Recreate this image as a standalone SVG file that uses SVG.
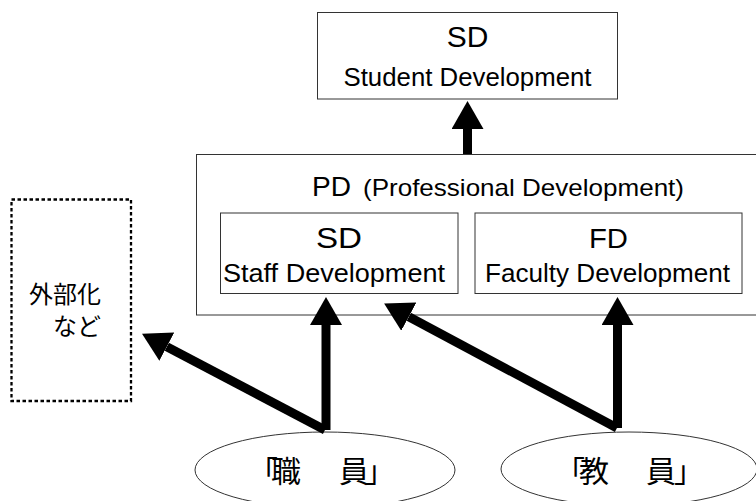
<svg xmlns="http://www.w3.org/2000/svg" width="756" height="501" viewBox="0 0 756 501">
  <style>
    .box { fill: #ffffff; stroke: #333333; stroke-width: 1; }
    .dash { fill: none; stroke: #000000; stroke-width: 2.3; stroke-dasharray: 3.5 2.5; }
    .oval { fill: #ffffff; stroke: #333333; stroke-width: 1; }
    .lat { font-family: "Liberation Sans", Arial, Helvetica, sans-serif; fill: #000000; }
    .jp { font-family: "Noto Sans CJK JP", "Noto Sans CJK SC", sans-serif; fill: #000000; }
    .mid { text-anchor: middle; }
    .arrow { stroke: #000000; stroke-width: 9; fill: none; marker-end: url(#head); }
  </style>
  <defs>
    <marker id="head" viewBox="0 0 28 32" refX="0" refY="16" markerWidth="28" markerHeight="32" markerUnits="userSpaceOnUse" orient="auto">
      <path d="M0,0 L28,16 L0,32 Z" fill="#000000"/>
    </marker>
  </defs>
  <rect width="756" height="501" fill="#ffffff"/>

  <!-- outer PD frame -->
  <g id="pd">
    <rect class="box" x="196.5" y="154.5" width="570" height="160.5"/>
    <text class="lat" x="312" y="196" font-size="27" textLength="39" lengthAdjust="spacingAndGlyphs">PD</text>
    <text class="lat" x="363" y="196" font-size="24" textLength="321" lengthAdjust="spacingAndGlyphs">(Professional Development)</text>
  </g>

  <!-- student development -->
  <g id="student-sd">
    <rect class="box" x="317.5" y="12.5" width="300" height="86.5"/>
    <text class="lat mid" x="467.5" y="47" font-size="29" textLength="41.6" lengthAdjust="spacingAndGlyphs">SD</text>
    <text class="lat mid" x="467.5" y="86" font-size="25" textLength="248" lengthAdjust="spacingAndGlyphs">Student Development</text>
  </g>

  <!-- staff development -->
  <g id="staff-sd">
    <rect class="box" x="220.5" y="213" width="237.5" height="80.5"/>
    <text class="lat mid" x="339" y="248" font-size="29" textLength="46" lengthAdjust="spacingAndGlyphs">SD</text>
    <text class="lat" x="223" y="282" font-size="25" textLength="222" lengthAdjust="spacingAndGlyphs">Staff Development</text>
  </g>

  <!-- faculty development -->
  <g id="faculty-fd">
    <rect class="box" x="475" y="213" width="267" height="80.5"/>
    <text class="lat mid" x="608.5" y="248" font-size="28" textLength="39" lengthAdjust="spacingAndGlyphs">FD</text>
    <text class="lat" x="485" y="282" font-size="25" textLength="245" lengthAdjust="spacingAndGlyphs">Faculty Development</text>
  </g>

  <!-- outsourcing etc. -->
  <g id="outsourcing">
    <rect class="dash" x="11.5" y="199.5" width="119.5" height="201.5"/>
    <text class="jp" x="101" y="303" font-size="24" text-anchor="end">外部化</text>
    <text class="jp" x="101" y="335" font-size="24" text-anchor="end">など</text>
  </g>

  <!-- staff -->
  <g id="staff">
    <ellipse class="oval" cx="325" cy="470" rx="130" ry="38"/>
    <text class="jp" x="248 271 305 339 365" y="482" font-size="30">「職　員」</text>
  </g>

  <!-- faculty -->
  <g id="faculty">
    <ellipse class="oval" cx="629" cy="469" rx="128" ry="37"/>
    <text class="jp" x="555 579 612 646 674" y="482" font-size="30">「教　員」</text>
  </g>

  <!-- connectors -->
  <g id="connectors">
    <line class="arrow" x1="467.5" y1="154" x2="467.5" y2="129"/>
    <line class="arrow" x1="326" y1="430" x2="326" y2="325"/>
    <line class="arrow" x1="325" y1="430" x2="166.8" y2="346.7"/>
    <line class="arrow" x1="617.5" y1="428" x2="617.5" y2="325"/>
    <line class="arrow" x1="617" y1="428" x2="408.8" y2="316.7"/>
  </g>
</svg>
